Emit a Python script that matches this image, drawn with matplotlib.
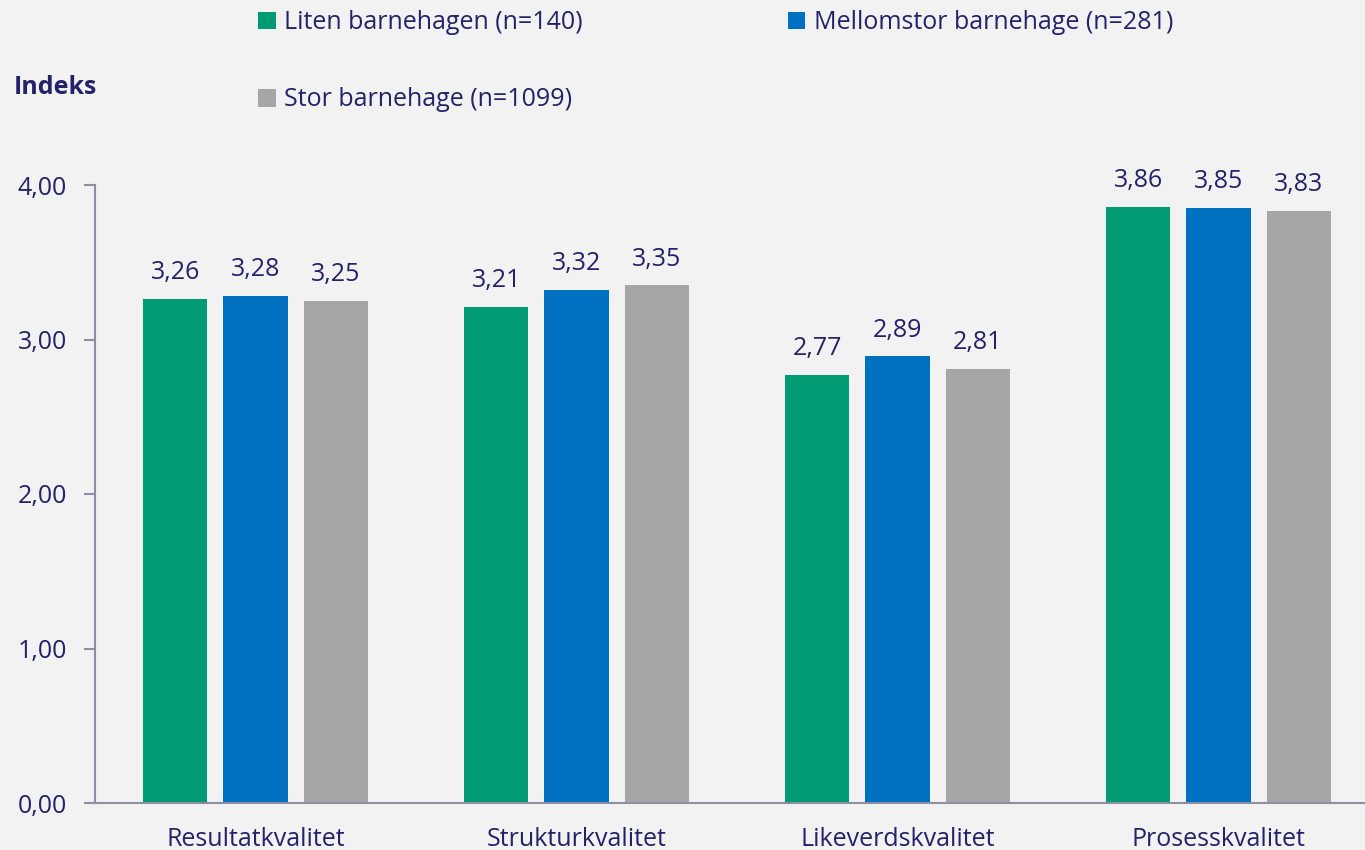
import matplotlib
matplotlib.use("Agg")
import matplotlib.pyplot as plt
import numpy as np
from matplotlib.patches import Patch

categories = ["Resultatkvalitet", "Strukturkvalitet", "Likeverdskvalitet", "Prosesskvalitet"]
series_names = ["Liten barnehagen (n=140)", "Mellomstor barnehage (n=281)", "Stor barnehage (n=1099)"]
liten = [3.26, 3.21, 2.77, 3.86]
mellomstor = [3.28, 3.32, 2.89, 3.85]
stor = [3.25, 3.35, 2.81, 3.83]
yticks = [0, 1, 2, 3, 4]

colors = ["#009a73", "#0070c0", "#a6a6a6"]
txt = "#23226b"
bg = "#f2f2f2"
plt.rcParams['font.family'] = ['Open Sans', 'DejaVu Sans']
fs = 18

fig = plt.figure(figsize=(13.65, 8.5), dpi=100, facecolor=bg)
ax = fig.add_axes([95/1365, 47/850, 1284/1365, 618/850], facecolor=bg)

x = np.arange(len(categories))
w = 0.2
step = 0.25
handles = []
for i, (vals, c, name) in enumerate(zip([liten, mellomstor, stor], colors, series_names)):
    bars = ax.bar(x + (i - 1) * step, vals, width=w, color=c, zorder=2)
    for b, v in zip(bars, vals):
        ax.text(b.get_x() + b.get_width() / 2, v + 0.09, f"{v:.2f}".replace(".", ","),
                ha="center", va="bottom", fontsize=fs, color=txt, clip_on=False)
    handles.append(Patch(facecolor=c, label=name))

ax.set_xlim(-0.5, 3.5)
ax.set_ylim(0, 4)
ax.set_yticks(yticks)
ax.set_yticklabels([f"{t:.2f}".replace(".", ",") for t in yticks], fontsize=fs, color=txt)
ax.set_xticks(x)
ax.set_xticklabels(categories, fontsize=fs, color=txt)
ax.tick_params(axis="x", length=0, pad=17)
ax.tick_params(axis="y", length=8, width=1.5, color="#8e8ea4", pad=12)
for s in ["top", "right"]:
    ax.spines[s].set_visible(False)
for s in ["left", "bottom"]:
    ax.spines[s].set_color("#8e8ea4")
    ax.spines[s].set_linewidth(1.5)

fig.text(14/1365, 1 - 88/850, "Indeks", fontsize=fs, fontweight="bold", color=txt, va="center", ha="left")

order = [handles[0], handles[2], handles[1]]
leg = fig.legend(handles=order, labels=[h.get_label() for h in order], ncol=2,
                 loc="upper left", bbox_to_anchor=(258/1365, 1 - 10/850), frameon=False,
                 fontsize=fs, handlelength=0.7, handleheight=0.7, handletextpad=0.35,
                 labelspacing=2.1, columnspacing=8.2, borderaxespad=0, borderpad=0)
for t in leg.get_texts():
    t.set_color(txt)

fig.savefig("out.png", dpi=100, facecolor=bg)
